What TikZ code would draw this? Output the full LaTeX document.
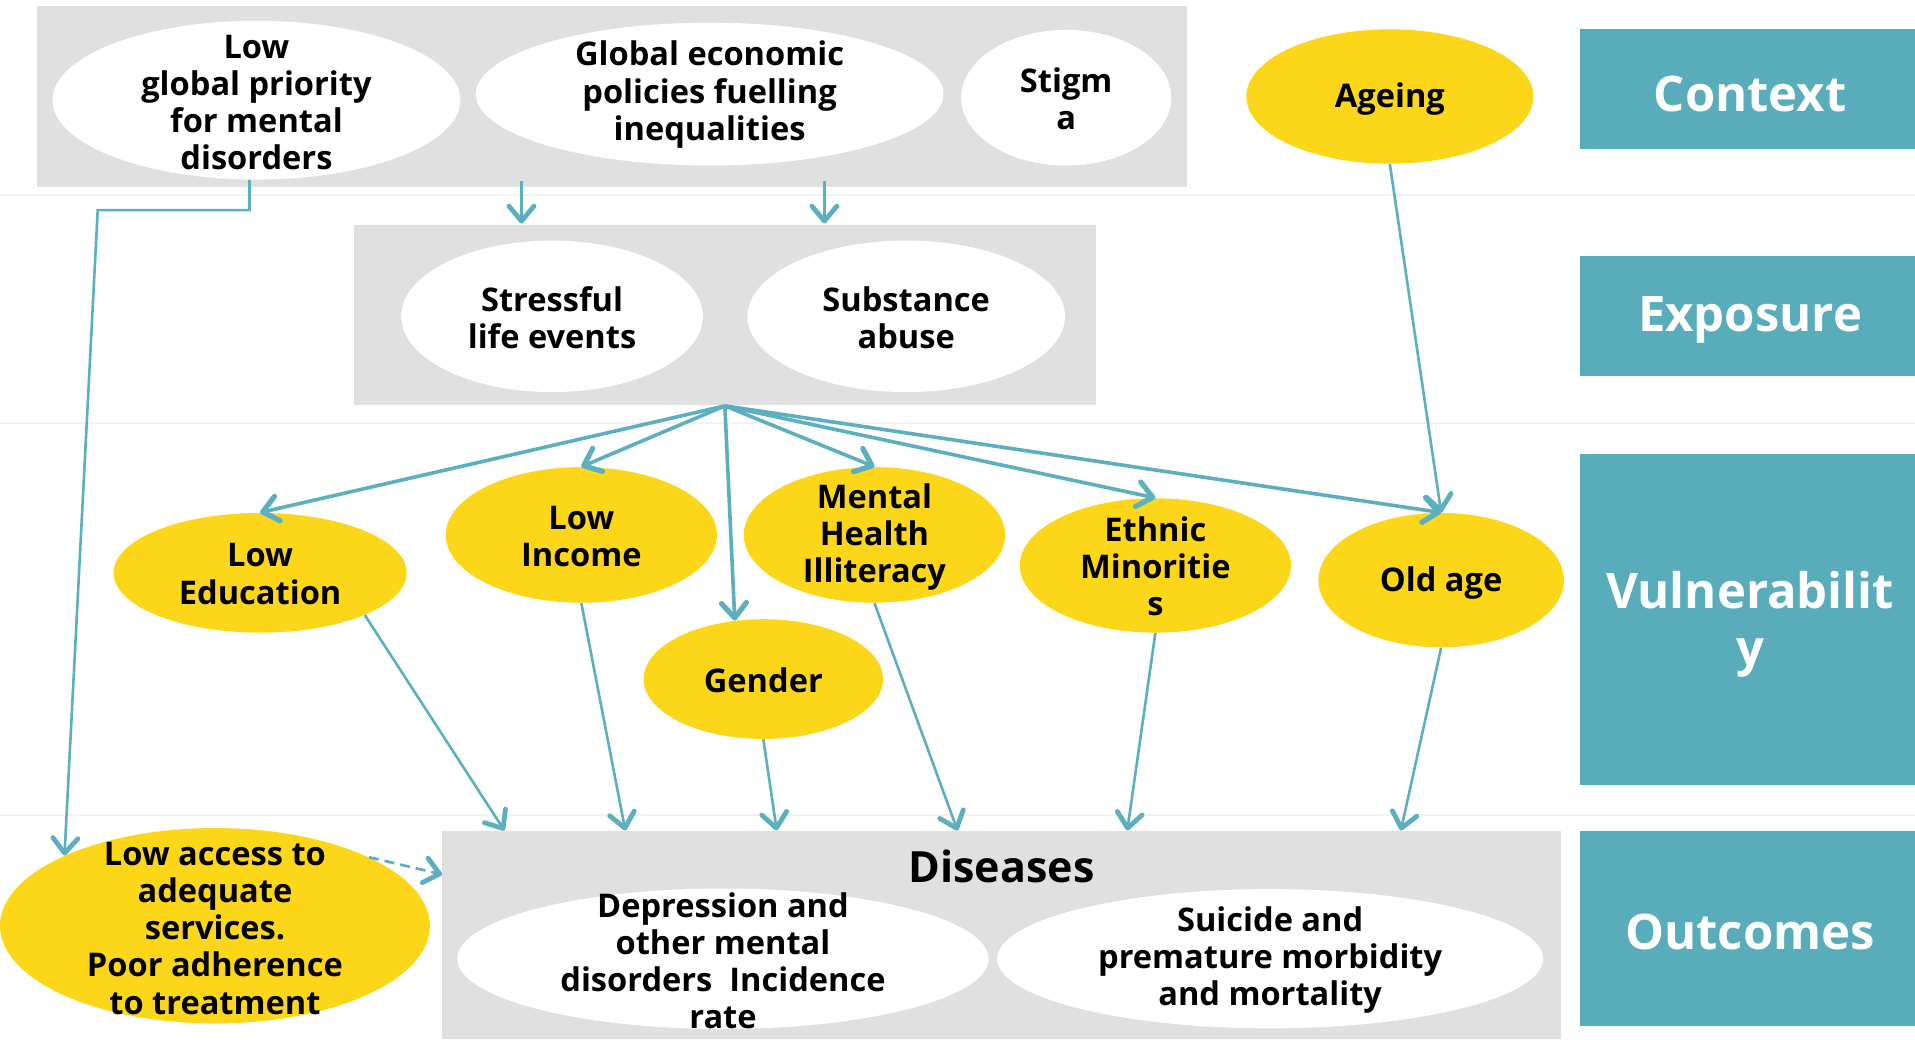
\documentclass[tikz,border=0pt]{standalone}
\usepackage{fontspec}
\setmainfont{Open Sans}
\usetikzlibrary{shapes.geometric,arrows.meta}
\definecolor{boxgray}{HTML}{E0E0E0}
\definecolor{yel}{HTML}{FCD619}
\definecolor{tealbox}{HTML}{59ADBA}
\definecolor{arr}{HTML}{5BAFBE}
\definecolor{sepline}{HTML}{F2F2F2}
\def\pxu{0.61065pt}
\begin{document}
\begin{tikzpicture}[x=0.61065pt,y=-0.61065pt,
  graybox/.style={rectangle,fill=boxgray,draw=none,inner sep=0pt},
  tealrect/.style={rectangle,fill=tealbox,draw=none,inner sep=0pt},
  tealtxt/.style={text=white,align=center,inner sep=0pt,
     font=\bfseries\fontsize{24.5}{28.3}\selectfont},
  whiteell/.style={ellipse,fill=white,draw=none,inner sep=0pt},
  yelell/.style={ellipse,fill=yel,draw=none,inner sep=0pt},
  lbl/.style={align=center,inner sep=0pt,font=\bfseries\fontsize{16.3}{18.6}\selectfont},
  fan/.style={draw=arr,line width=1.8pt,-{Straight Barb[length=7.5pt,width=12.5pt,line width=2.6pt,round]}},
  conn/.style={draw=arr,line width=1.3pt,-{Straight Barb[length=7.5pt,width=12.5pt,line width=2.4pt,round]}},
  sep/.style={draw=sepline,line width=1pt}
]
\useasboundingbox (0,0) rectangle (1568,850.8);
\fill[white] (0,0) rectangle (1568,850.8);
% separators
\draw[sep] (0,160) -- (1568,160);
\draw[sep] (0,346) -- (1568,346);
\draw[sep] (0,667) -- (1568,667);
% gray boxes
\node[graybox,minimum width=942*\pxu,minimum height=148*\pxu] (ctx) at (501,79) {};
\node[graybox,minimum width=607*\pxu,minimum height=148*\pxu] (exp) at (593.5,258) {};
\node[graybox,minimum width=916*\pxu,minimum height=171*\pxu] (dis) at (820,765.5) {};
% teal boxes
\node[tealrect,minimum width=274*\pxu,minimum height=98*\pxu] (tctx) at (1431,73) {};
\node[tealtxt] (tctxT) at (1433,77) {Context};
\node[tealrect,minimum width=274*\pxu,minimum height=98*\pxu] (texp) at (1431,259) {};
\node[tealtxt] (texpT) at (1433,262) {Exposure};
\node[tealrect,minimum width=274*\pxu,minimum height=271*\pxu] (tvul) at (1431,507.5) {};
\node[tealtxt] (tvulT) at (1433,511) {Vulnerabilit\\y};
\node[tealrect,minimum width=274*\pxu,minimum height=160*\pxu] (tout) at (1431,760) {};
\node[tealtxt] (toutT) at (1433,763) {Outcomes};
% ellipses
\node[whiteell,minimum width=334*\pxu,minimum height=130*\pxu] (lowpri) at (210,82) {};
\node[lbl] (lowpriT) at (210,84) {Low\\global priority\\for mental\\disorders};
\node[whiteell,minimum width=383*\pxu,minimum height=117*\pxu] (geo) at (581,77) {};
\node[lbl] (geoT) at (581,77.5) {Global economic\\policies fuelling\\inequalities};
\node[whiteell,minimum width=172*\pxu,minimum height=111*\pxu] (stig) at (873,80) {};
\node[lbl] (stigT) at (873,81) {Stigm\\a};
\node[yelell,minimum width=235*\pxu,minimum height=110*\pxu] (ageing) at (1138,79) {};
\node[lbl] (ageingT) at (1138,81) {Ageing};
\node[whiteell,minimum width=247*\pxu,minimum height=124*\pxu] (stress) at (452,259) {};
\node[lbl] (stressT) at (452,260) {Stressful\\life events};
\node[whiteell,minimum width=260*\pxu,minimum height=124*\pxu] (subst) at (742,259) {};
\node[lbl] (substT) at (742,260) {Substance\\abuse};
\node[yelell,minimum width=240*\pxu,minimum height=98*\pxu] (lowedu) at (213,469) {};
\node[lbl] (loweduT) at (213,470) {Low\\Education};
\node[yelell,minimum width=222*\pxu,minimum height=111*\pxu] (lowinc) at (476,438) {};
\node[lbl] (lowincT) at (476,439) {Low\\Income};
\node[yelell,minimum width=214*\pxu,minimum height=111*\pxu] (mhi) at (716,438) {};
\node[lbl] (mhiT) at (716,439.5) {Mental\\Health\\Illiteracy};
\node[yelell,minimum width=196*\pxu,minimum height=98*\pxu] (gender) at (625,556) {};
\node[lbl] (genderT) at (625,557) {Gender};
\node[yelell,minimum width=222*\pxu,minimum height=110*\pxu] (ethnic) at (946,463) {};
\node[lbl] (ethnicT) at (946,463.5) {Ethnic\\Minoritie\\s};
\node[yelell,minimum width=201*\pxu,minimum height=110*\pxu] (oldage) at (1180,475) {};
\node[lbl] (oldageT) at (1180,477) {Old age};
\node[yelell,minimum width=352*\pxu,minimum height=160*\pxu] (lowacc) at (176,758) {};
\node[lbl] (lowaccT) at (176,760) {Low access to\\adequate\\services.\\Poor adherence\\to treatment};
\node[lbl,font=\bfseries\fontsize{21.5}{25}\selectfont] (disT) at (820,709) {Diseases};
\node[whiteell,minimum width=435*\pxu,minimum height=115*\pxu] (dep) at (592,785) {};
\node[lbl] (depT) at (592,786.5) {Depression and\\other mental\\disorders\ \ Incidence\\rate};
\node[whiteell,minimum width=447*\pxu,minimum height=114*\pxu] (sui) at (1040,785) {};
\node[lbl] (suiT) at (1040,786) {Suicide and\\premature morbidity\\and mortality};
% coordinates
\coordinate (c1s) at (427,148);
\coordinate (c1e) at (427,183);
\coordinate (c2s) at (675,148);
\coordinate (c2e) at (675,183);
\coordinate (bend) at (80,172);
\coordinate (t1) at (413,680);
\coordinate (t2) at (512,680);
\coordinate (t3) at (636,680);
\coordinate (t4) at (784,680);
\coordinate (t5) at (923,680);
\coordinate (t6) at (1147,680);
\coordinate (dd) at (362,716);
% connectors
\draw[conn] (c1s) -- (c1e);
\draw[conn] (c2s) -- (c2e);
\draw[fan] (exp.south) -- (lowedu.north);
\draw[fan] (exp.south) -- (lowinc.north);
\draw[fan] (exp.south) -- (gender.116);
\draw[fan] (exp.south) -- (mhi.north);
\draw[fan] (exp.south) -- (ethnic.north);
\draw[fan] (exp.south) -- (oldage.north);
\draw[conn] (ageing.south) -- (oldage.north);
\draw[conn] (lowedu.-22) -- (t1);
\draw[conn] (lowinc.south) -- (t2);
\draw[conn] (gender.south) -- (t3);
\draw[conn] (mhi.south) -- (t4);
\draw[conn] (ethnic.south) -- (t5);
\draw[conn] (oldage.south) -- (t6);
\draw[conn] (lowpri.-95) |- (bend) -- (lowacc.155);
\draw[conn,dashed,dash pattern=on 5pt off 3pt] (lowacc.24) -- (dd);
\end{tikzpicture}
\end{document}
